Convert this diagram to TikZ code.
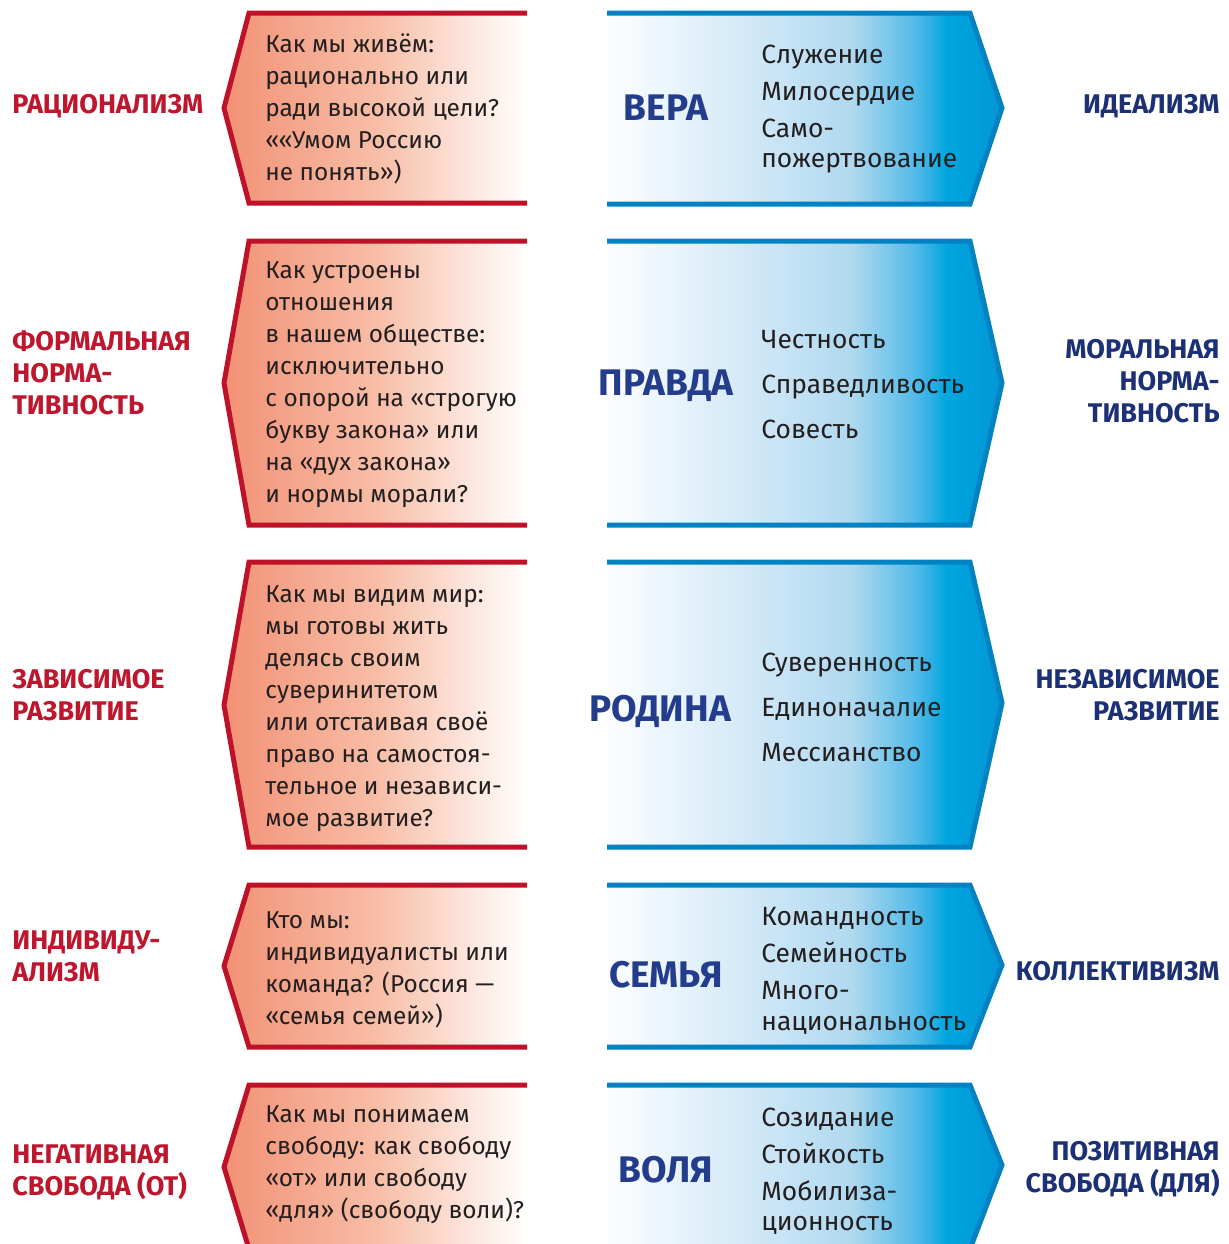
\documentclass[tikz,border=0pt]{standalone}
\usepackage{fontspec}
\setmainfont{Fira Sans}
\definecolor{redline}{RGB}{190,18,40}
\definecolor{blueline}{RGB}{0,130,195}
\definecolor{redlab}{RGB}{190,22,45}
\definecolor{navylab}{RGB}{28,48,118}
\definecolor{navyword}{RGB}{36,60,140}
\definecolor{bodytext}{RGB}{35,31,32}
\pgfdeclarehorizontalshading{redfade}{100bp}{rgb(0bp)=(0.95,0.57,0.46); rgb(25bp)=(0.95,0.57,0.46); rgb(50bp)=(0.97,0.74,0.65); rgb(75bp)=(1,1,1); rgb(100bp)=(1,1,1)}
\pgfdeclarehorizontalshading{bluefade}{100bp}{rgb(0bp)=(0.99,0.995,1); rgb(25bp)=(0.99,0.995,1); rgb(47.5bp)=(0.78,0.89,0.96); rgb(56bp)=(0.69,0.85,0.94); rgb(64bp)=(0.33,0.73,0.91); rgb(68bp)=(0,0.65,0.88); rgb(75bp)=(0,0.59,0.84); rgb(100bp)=(0,0.59,0.84)}
\newcommand\mkredbox[3]{%
  \shade[shading=redfade] (527,#1) -- (249,#1) -- (224,#2) -- (249,#3) -- (527,#3) -- cycle;
  \draw[redborder] (527,#1) -- (249,#1) -- (224,#2) -- (249,#3) -- (527,#3);
}
\newcommand\mkbluebox[3]{%
  \shade[shading=bluefade] (607,#1) -- (970,#1) -- (1002,#2) -- (970,#3) -- (607,#3) -- cycle;
  \draw[blueborder] (607,#1) -- (970,#1) -- (1002,#2) -- (970,#3) -- (607,#3);
}
\begin{document}
\begin{tikzpicture}[x=0.5pt,y=-0.5pt,
  redborder/.style={draw=redline,line width=2.5pt,line join=miter},
  blueborder/.style={draw=blueline,line width=2.5pt,line join=miter},
  qtext/.style={font=\fontsize{12.2}{16}\selectfont,align=left,anchor=west,inner sep=0pt,text=bodytext},
  vtext/.style={font=\fontsize{13.2}{18.5}\selectfont,align=left,anchor=west,inner sep=0pt,text=bodytext},
  vtextwide/.style={font=\fontsize{13.2}{22.5}\selectfont,align=left,anchor=west,inner sep=0pt,text=bodytext},
  word/.style={font=\fontsize{18.5}{22}\selectfont\bfseries,anchor=center,inner sep=0pt,text=navyword},
  leftlab/.style={font=\fontsize{13.5}{16}\selectfont\bfseries,align=left,anchor=west,inner sep=0pt,text=redlab},
  rightlab/.style={font=\fontsize{13.5}{16}\selectfont\bfseries,align=right,anchor=east,inner sep=0pt,text=navylab}]
\useasboundingbox (0,0) rectangle (1228,1244);
\begin{scope}
\clip (0,0) rectangle (1228,1244);
\mkredbox{13}{108}{203}
\mkredbox{241}{383}{525}
\mkredbox{562}{705}{847}
\mkredbox{885}{966}{1047}
\mkredbox{1085}{1167}{1249}
\mkbluebox{13}{108}{204}
\mkbluebox{241}{383}{525}
\mkbluebox{562}{703}{847}
\mkbluebox{885}{965}{1047}
\mkbluebox{1085}{1165}{1249}
\end{scope}
% left labels
\node[leftlab] (L1) at (12,106) {РАЦИОНАЛИЗМ};
\node[leftlab] (L2) at (12,373) {ФОРМАЛЬНАЯ\\НОРМА-\\ТИВНОСТЬ};
\node[leftlab] (L3) at (12,695) {ЗАВИСИМОЕ\\РАЗВИТИЕ};
\node[leftlab] (L4) at (12,956) {ИНДИВИДУ-\\АЛИЗМ};
\node[leftlab] (L5) at (12,1172) {НЕГАТИВНАЯ\\СВОБОДА (ОТ)};
% right labels
\node[rightlab] (R1) at (1220,106) {ИДЕАЛИЗМ};
\node[rightlab] (R2) at (1220,381) {МОРАЛЬНАЯ\\НОРМА-\\ТИВНОСТЬ};
\node[rightlab] (R3) at (1220,695) {НЕЗАВИСИМОЕ\\РАЗВИТИЕ};
\node[rightlab] (R4) at (1220,971) {КОЛЛЕКТИВИЗМ};
\node[rightlab] (R5) at (1220,1169) {ПОЗИТИВНАЯ\\СВОБОДА (ДЛЯ)};
% questions
\node[qtext] (Q1) at (265,109) {Как мы живём:\\рационально или\\ради высокой цели?\\««Умом Россию\\не понять»)};
\node[qtext] (Q2) at (265,385) {Как устроены\\отношения\\в нашем обществе:\\исключительно\\с опорой на «строгую\\букву закона» или\\на «дух закона»\\и нормы морали?};
\node[qtext] (Q3) at (265,709) {Как мы видим мир:\\мы готовы жить\\делясь своим\\суверинитетом\\или отстаивая своё\\право на самостоя-\\тельное и независи-\\мое развитие?};
\node[qtext] (Q4) at (265,970) {Кто мы:\\индивидуалисты или\\команда? (Россия —\\«семья семей»)};
\node[qtext] (Q5) at (265,1165) {Как мы понимаем\\свободу: как свободу\\«от» или свободу\\«для» (свободу воли)?};
% values words
\node[word] (W1) at (666,108) {ВЕРА};
\node[word] (W2) at (666,386) {ПРАВДА};
\node[word] (W3) at (660,711) {РОДИНА};
\node[word] (W4) at (666,975) {СЕМЬЯ};
\node[word] (W5) at (666,1170) {ВОЛЯ};
% values
\node[vtext] (V1) at (761,109) {Служение\\Милосердие\\Само-\\[-3.25pt]пожертвование};
\node[vtextwide] (V2) at (761,385) {Честность\\Справедливость\\Совесть};
\node[vtextwide] (V3) at (761,707) {Суверенность\\Единоначалие\\Мессианство};
\node[vtext] (V4) at (761,971) {Командность\\Семейность\\Много-\\[-3.25pt]национальность};
\node[vtext] (V5) at (761,1171) {Созидание\\Стойкость\\Мобилиза-\\[-3.25pt]ционность};
\end{tikzpicture}
\end{document}
